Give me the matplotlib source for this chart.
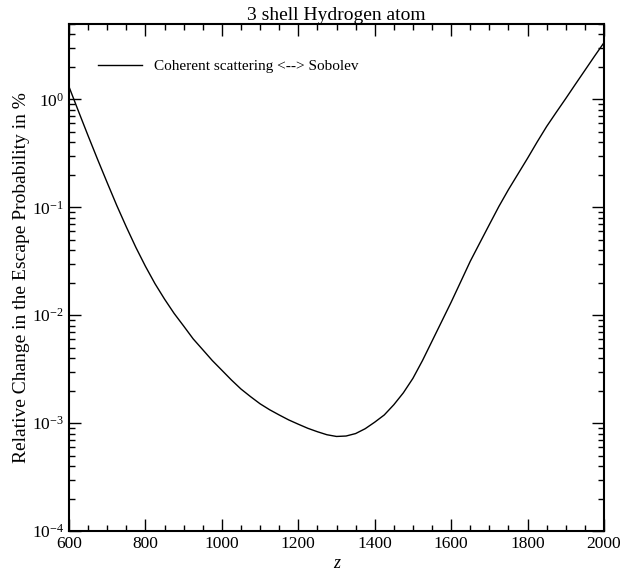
import matplotlib
matplotlib.use("Agg")
import matplotlib.pyplot as plt
from matplotlib.ticker import LogLocator, MultipleLocator, NullFormatter

plt.rcParams['font.family'] = ['Liberation Serif', 'DejaVu Serif']
plt.rcParams['mathtext.fontset'] = 'custom'
plt.rcParams['mathtext.rm'] = 'Liberation Serif'
plt.rcParams['mathtext.it'] = 'Liberation Serif:italic'

z = [600, 625, 650, 675, 700, 725, 750, 775, 800, 825, 850, 875, 900, 925,
     950, 975, 1000, 1025, 1050, 1075, 1100, 1125, 1150, 1175, 1200, 1225,
     1250, 1275, 1300, 1325, 1350, 1375, 1400, 1425, 1450, 1475, 1500, 1525,
     1550, 1575, 1600, 1625, 1650, 1675, 1700, 1725, 1750, 1775, 1800, 1825,
     1850, 1875, 1900, 1925, 1950, 1975, 2000]
rel_change = [1.31, 0.773, 0.460, 0.277, 0.169, 0.104, 0.0658, 0.0425, 0.0284,
              0.0196, 0.0141, 0.0104, 0.00794, 0.00603, 0.00479, 0.0038,
              0.00309, 0.00251, 0.00207, 0.00176, 0.00151, 0.00133, 0.00119,
              0.00107, 0.000977, 0.000895, 0.000832, 0.00078, 0.000752,
              0.000759, 0.0008, 0.000887, 0.00102, 0.00119, 0.00148, 0.00191,
              0.0026, 0.0038, 0.00575, 0.00871, 0.0132, 0.0204, 0.0316, 0.0468,
              0.0692, 0.102, 0.146, 0.204, 0.285, 0.403, 0.562, 0.759, 1.02,
              1.38, 1.86, 2.51, 3.36]

series_label = "Coherent scattering <--> Sobolev"
title = "3 shell Hydrogen atom"
xlabel = "z"
ylabel = "Relative Change in the Escape Probability in %"

fig = plt.figure(figsize=(6.44, 5.76), dpi=100)
ax = fig.add_axes([69/644, 1-531/576, (604-69)/644, (531-24)/576])

ax.plot(z, rel_change, color='black', lw=1.0, label=series_label)
ax.set_yscale('log')
ax.set_xlim(600, 2000)
ax.set_ylim(1e-4, 5)

ax.xaxis.set_major_locator(MultipleLocator(200))
ax.xaxis.set_minor_locator(MultipleLocator(50))
ax.yaxis.set_major_locator(LogLocator(base=10, numticks=20))
ax.yaxis.set_minor_locator(LogLocator(base=10, subs=range(2, 10), numticks=20))
ax.yaxis.set_minor_formatter(NullFormatter())

ax.tick_params(which='both', direction='in', top=True, right=True,
               labelsize=12.5, width=1.0, color='black')
ax.tick_params(which='major', length=8.5)
ax.tick_params(which='minor', length=4.3)
for s in ax.spines.values():
    s.set_linewidth(1.5)

ax.set_title(title, fontsize=14, pad=0.5)
ax.set_xlabel(xlabel, fontsize=13, style='italic', labelpad=2)
ax.set_ylabel(ylabel, fontsize=14, labelpad=1)

ax.legend(loc='center left', bbox_to_anchor=(0.054, 0.916), frameon=False,
          fontsize=11, handlelength=2.9, handletextpad=0.8,
          borderaxespad=0, borderpad=0)

fig.savefig("out.png", dpi=100)
